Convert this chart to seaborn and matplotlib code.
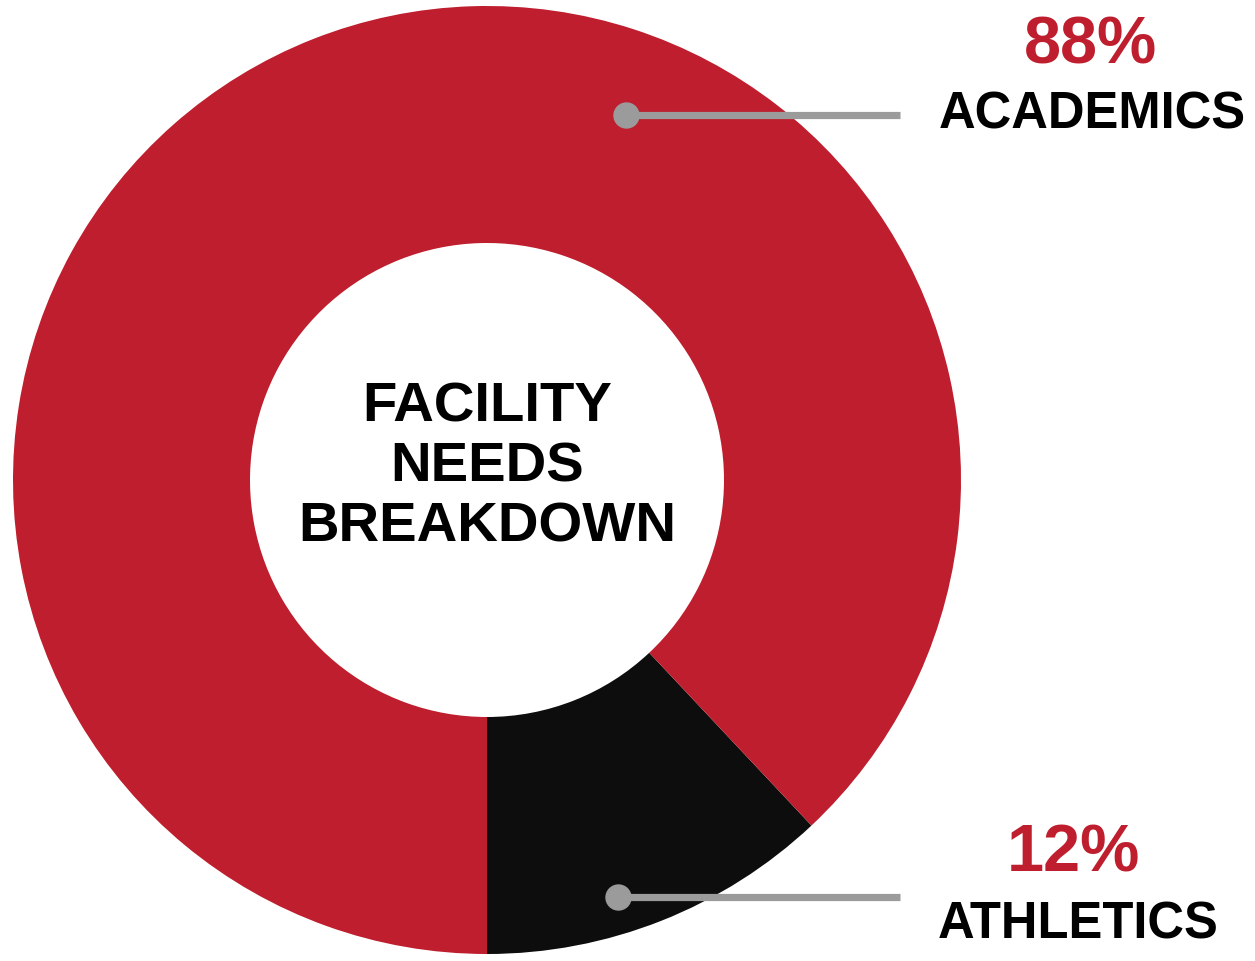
import matplotlib
matplotlib.use("Agg")
import matplotlib.pyplot as plt
import seaborn as sns
import numpy as np

categories = ["ATHLETICS", "ACADEMICS"]
values = [12, 88]
pct_labels = ["12%", "88%"]
colors = ["#0D0D0D", "#BE1E2D"]
center_title = "FACILITY\nNEEDS\nBREAKDOWN"

sns.set_theme(style="white")
plt.rcParams['font.family'] = ['Liberation Sans', 'DejaVu Sans']

W, H = 1255, 961
fig = plt.figure(figsize=(W / 100, H / 100), dpi=100)
ax = fig.add_axes([0, 0, 1, 1])

cx, cy = 487, H - 480
R = 474
ax.pie(values, colors=colors, startangle=-90, counterclock=True,
       center=(cx, cy), radius=R, frame=True,
       wedgeprops=dict(width=R - 237, linewidth=0))
ax.set_xlim(0, W)
ax.set_ylim(0, H)
ax.set_aspect("equal")
ax.axis("off")

ax.text(cx, H - 467, center_title, ha="center", va="center", fontsize=40.5,
        fontweight="bold", color="black", linespacing=1.2)

gray = "#9B9B9B"
# annotations: (dot_x, dot_y, pct_x, pct_y, label_x, label_y)
ann = {
    "ACADEMICS": (626, 115, 1091, 47, 1092, 115),
    "ATHLETICS": (618, 897, 1073, 855, 1078, 925),
}
for cat, pct in zip(categories, pct_labels):
    dx, dy, px, py, lx, ly = ann[cat]
    ax.plot([dx, 900], [H - dy, H - dy], color=gray, lw=5.2, solid_capstyle="butt")
    ax.plot([dx], [H - dy], "o", color=gray, markersize=18)
    ax.text(px, H - py, pct, ha="center", va="center", fontsize=48,
            fontweight="bold", color="#BE1E2D")
    ax.text(lx, H - ly, cat, ha="center", va="center", fontsize=36.5,
            fontweight="bold", color="black")

fig.savefig("out.png", dpi=100)
